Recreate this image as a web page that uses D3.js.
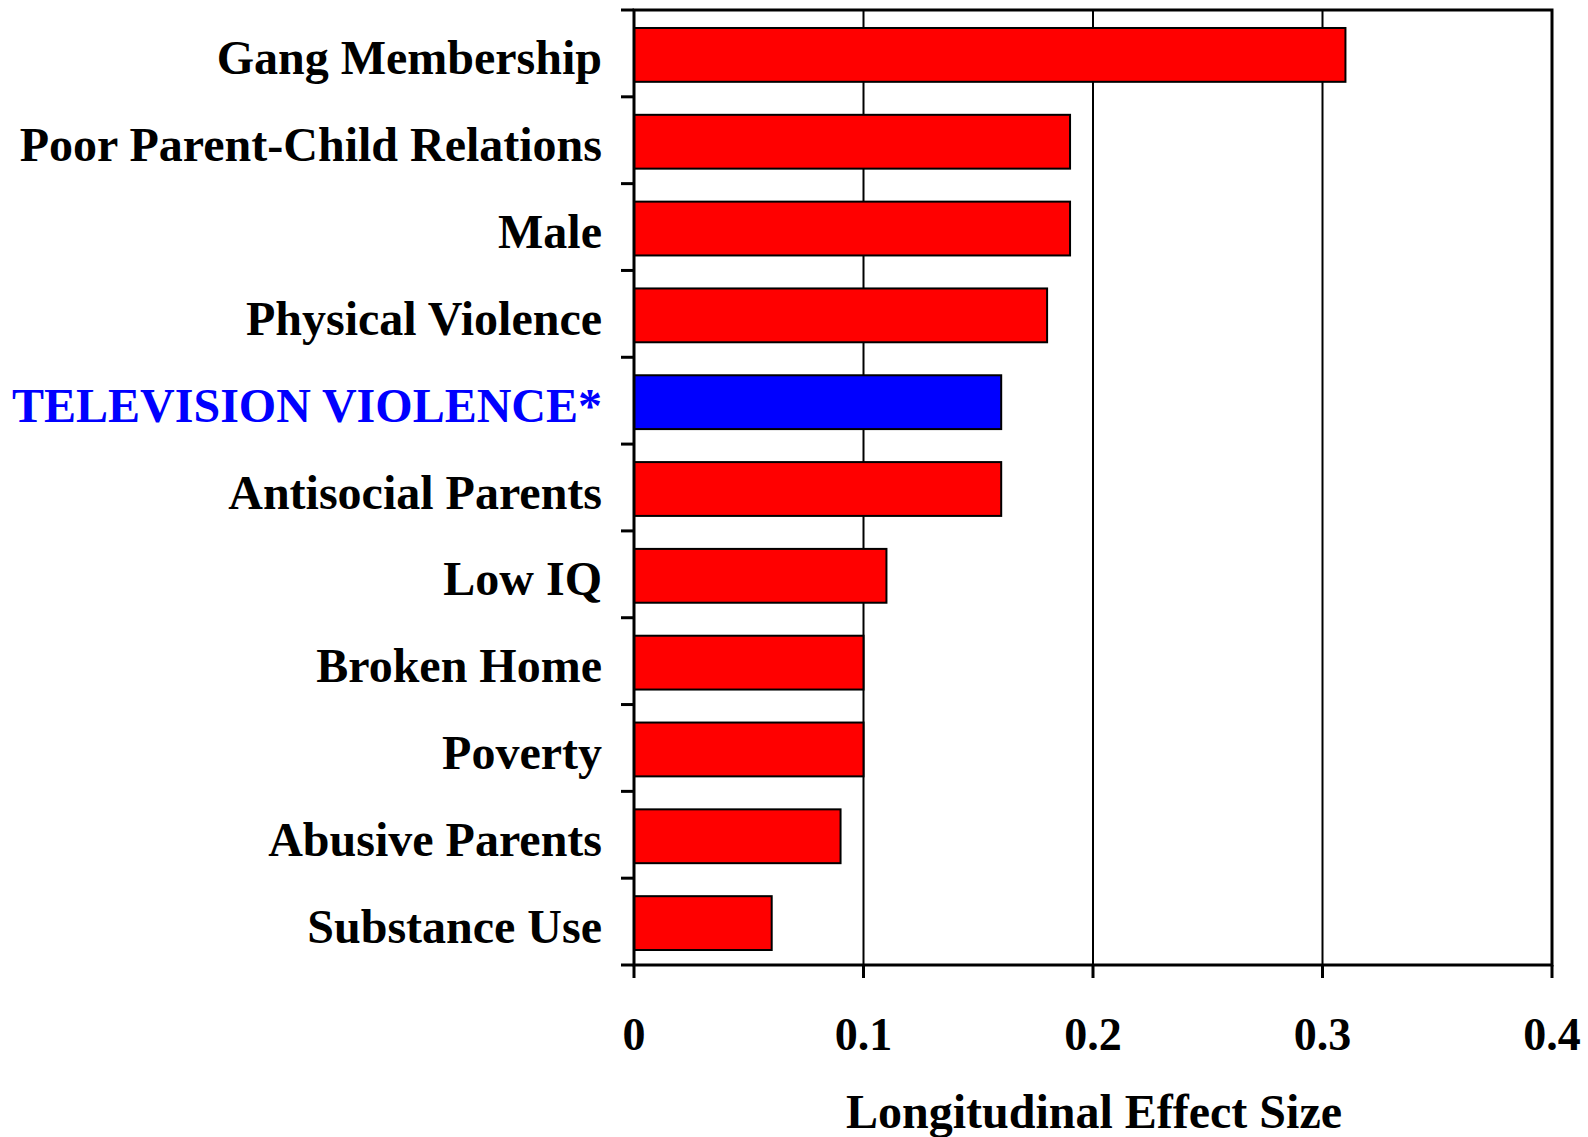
<!DOCTYPE html>
<html>
<head>
<meta charset="utf-8">
<script src="https://cdn.jsdelivr.net/npm/d3@7"></script>
<style>
  html, body { margin: 0; padding: 0; background: #fff; }
  svg { display: block; }
  text { font-family: "Liberation Serif", "Times New Roman", serif; font-weight: bold; }
</style>
</head>
<body>
<script>
const categories = ["Gang Membership", "Poor Parent-Child Relations", "Male", "Physical Violence",
  "TELEVISION VIOLENCE*", "Antisocial Parents", "Low IQ", "Broken Home", "Poverty",
  "Abusive Parents", "Substance Use"];
const values = [0.31, 0.19, 0.19, 0.18, 0.16, 0.16, 0.11, 0.10, 0.10, 0.09, 0.06];
const highlight = ["TELEVISION VIOLENCE*"];
const xTicks = [0, 0.1, 0.2, 0.3, 0.4];
const xTickLabels = ["0", "0.1", "0.2", "0.3", "0.4"];
const xTitle = "Longitudinal Effect Size";

(function () {
const W = 1588, H = 1137;
const pLeft = 634, pRight = 1552, pTop = 10, pBottom = 965;

const svg = d3.select("body").append("svg").attr("width", W).attr("height", H);

const x = d3.scaleLinear().domain([0, 0.4]).range([pLeft, pRight]);
const y = d3.scaleBand().domain(categories).range([pTop + 1.5, pBottom + 1.5]).paddingInner(0.38).paddingOuter(0.19);
const yb = d3.scaleBand().domain(categories).range([pTop, pBottom]);

// gridlines
svg.append("g").selectAll("line").data(xTicks.slice(1, -1)).join("line")
  .attr("x1", d => x(d)).attr("x2", d => x(d)).attr("y1", pTop).attr("y2", pBottom)
  .attr("stroke", "#000").attr("stroke-width", 2);

// bars
svg.append("g").selectAll("rect").data(categories).join("rect")
  .attr("x", x(0)).attr("y", d => y(d))
  .attr("width", (d, i) => x(values[i]) - x(0)).attr("height", y.bandwidth())
  .attr("fill", d => highlight.includes(d) ? "#0000ff" : "#ff0000")
  .attr("stroke", "#000").attr("stroke-width", 2);

// frame
svg.append("rect").attr("x", pLeft).attr("y", pTop).attr("width", pRight - pLeft).attr("height", pBottom - pTop)
  .attr("fill", "none").attr("stroke", "#000").attr("stroke-width", 3);

// y axis ticks (band boundaries)
const yBounds = categories.map(c => yb(c)).concat([pBottom]);
svg.append("g").selectAll("line").data(yBounds).join("line")
  .attr("x1", pLeft - 13).attr("x2", pLeft).attr("y1", d => d).attr("y2", d => d)
  .attr("stroke", "#000").attr("stroke-width", 3);

// x axis ticks
svg.append("g").selectAll("line").data(xTicks).join("line")
  .attr("x1", d => x(d)).attr("x2", d => x(d)).attr("y1", pBottom).attr("y2", pBottom + 13)
  .attr("stroke", "#000").attr("stroke-width", 3);

// category labels
svg.append("g").selectAll("text").data(categories).join("text")
  .attr("x", 602).attr("y", d => yb(d) + yb.bandwidth() / 2 + 21)
  .attr("text-anchor", "end").attr("font-size", 48)
  .attr("fill", d => highlight.includes(d) ? "#0000ff" : "#000")
  .text(d => d);

// x tick labels
svg.append("g").selectAll("text").data(xTicks).join("text")
  .attr("x", d => x(d)).attr("y", 1050)
  .attr("text-anchor", "middle").attr("font-size", 46)
  .text((d, i) => xTickLabels[i]);

// x title
svg.append("text").attr("x", 1094).attr("y", 1128).attr("text-anchor", "middle")
  .attr("font-size", 48).text(xTitle);
})();
</script>
</body>
</html>
